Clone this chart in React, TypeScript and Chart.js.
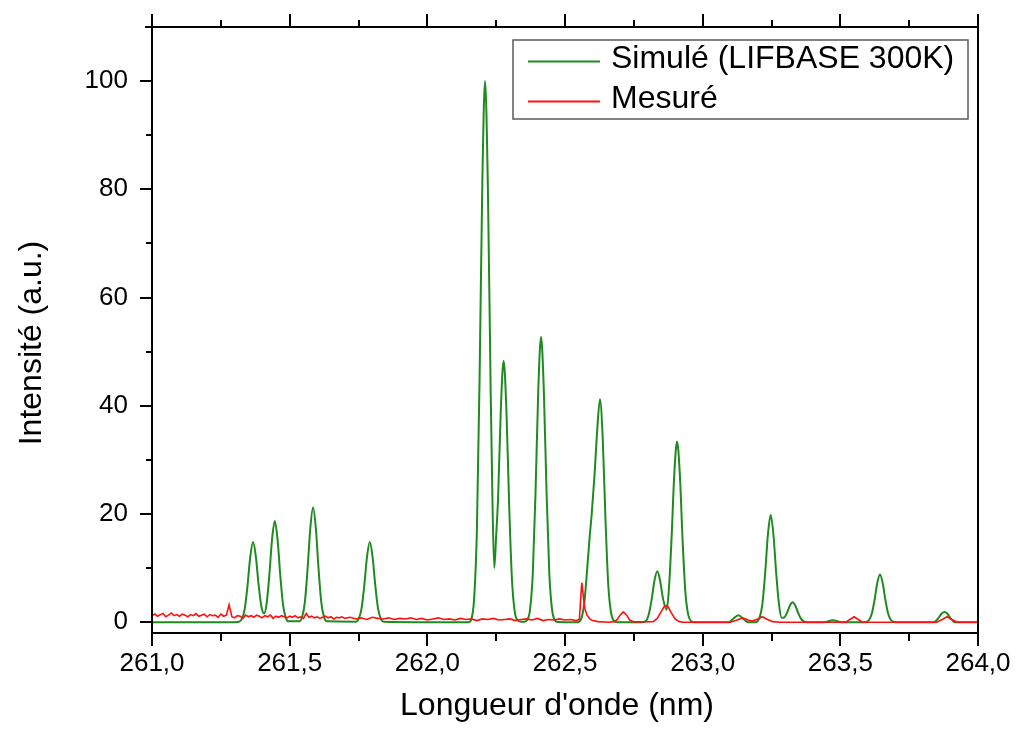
import React, { useEffect, useRef } from 'react';
import { Chart, registerables } from 'chart.js';
Chart.register(...registerables);

// ---------- axes ----------
const X_MIN = 261;
const X_MAX = 264;
const Y_MIN = -2;
const Y_MAX = 110;
const xMajorTicks = [261.0, 261.5, 262.0, 262.5, 263.0, 263.5, 264.0];
const xMinorTicks = [261.25, 261.75, 262.25, 262.75, 263.25, 263.75];
const yMajorTicks = [0, 20, 40, 60, 80, 100];
const yMinorTicks = [10, 30, 50, 70, 90, 110];
const xTitle = "Longueur d'onde (nm)";
const yTitle = 'Intensité (a.u.)';
const seriesLabels = ['Simulé (LIFBASE 300K)', 'Mesuré'];
const seriesColors = ['#1f8a1f', '#ff1010'];

// ---------- simulated spectrum (LIFBASE) ----------
const simWavelength = [
  261.000, 261.300, 261.317,
  261.327, 261.337, 261.347, 261.357, 261.367, 261.377, 261.387, 261.397, 261.407,
  261.416, 261.426, 261.436, 261.446, 261.456, 261.466, 261.476, 261.486, 261.496,
  261.535, 261.545, 261.555, 261.565, 261.575, 261.585, 261.595, 261.605, 261.615, 261.625, 261.635,
  261.741, 261.751, 261.761, 261.771, 261.781, 261.791, 261.801, 261.811, 261.821, 261.831, 261.841,
  262.100, 262.150,
  262.160, 262.170, 262.180, 262.190, 262.200, 262.2096, 262.220, 262.230, 262.236, 262.243,
  262.250, 262.257, 262.267, 262.277, 262.287, 262.297, 262.307, 262.317, 262.327, 262.340,
  262.353, 262.363, 262.373, 262.383, 262.393, 262.403, 262.413, 262.423, 262.433, 262.443, 262.453, 262.463, 262.473,
  262.545, 262.560, 262.570, 262.580, 262.590, 262.597, 262.607, 262.617, 262.627, 262.637, 262.647, 262.657, 262.667, 262.677, 262.690,
  262.780, 262.795, 262.805, 262.815, 262.825, 262.835, 262.845, 262.855, 262.869,
  262.877, 262.887, 262.897, 262.907, 262.917, 262.927, 262.937, 262.947, 262.957, 262.970,
  263.095, 263.110, 263.130, 263.150, 263.165,
  263.190, 263.207, 263.217, 263.227, 263.237, 263.247, 263.257, 263.267, 263.277, 263.287,
  263.297, 263.307, 263.317, 263.327, 263.337, 263.347, 263.357, 263.367, 263.380,
  263.440, 263.473, 263.505,
  263.590, 263.604, 263.614, 263.624, 263.634, 263.644, 263.654, 263.664, 263.674, 263.684, 263.700,
  263.840, 263.858, 263.868, 263.878, 263.888, 263.898, 263.915, 264.000,
];
const simIntensity = [
  0, 0, 0.1,
  0.65, 2.5, 6.8, 12.1, 14.8, 12.2, 7.0, 3.0, 1.6,
  3.3, 8.6, 15.3, 18.7, 15.3, 8.6, 3.2, 0.8, 0.15,
  0.15, 0.9, 3.6, 9.8, 17.4, 21.2, 17.4, 9.8, 3.6, 0.9, 0.15,
  0.1, 0.65, 2.5, 6.8, 12.1, 14.8, 12.1, 6.8, 2.5, 0.65, 0.1,
  0, 0,
  0.6, 4.4, 17, 46, 82, 100, 80, 43, 24, 10,
  16, 23, 39.5, 48.3, 39.5, 22, 8.2, 2.1, 0.4, 0.1,
  0.1, 0.4, 2.3, 9, 24, 43, 52.7, 43, 24, 9, 2.3, 0.4, 0.05,
  0, 0.8, 3.5, 9.5, 16, 20, 27, 35.5, 41.2, 34, 19, 7, 1.8, 0.3, 0,
  0, 0.3, 1.6, 4.3, 7.7, 9.4, 7.8, 4.6, 2.3,
  5.8, 15.5, 27.4, 33.4, 27.4, 15.3, 5.7, 1.5, 0.25, 0,
  0, 0.6, 1.3, 0.5, 0,
  0, 0.9, 3.4, 9.1, 16.2, 19.8, 16.2, 9.1, 3.4, 0.8,
  0.9, 1.8, 3.1, 3.7, 3.0, 1.7, 0.65, 0.15, 0,
  0, 0.35, 0,
  0, 0.4, 1.5, 4.0, 7.2, 8.8, 7.2, 4.0, 1.5, 0.4, 0,
  0, 0.9, 1.6, 1.9, 1.6, 0.9, 0, 0,
];

// ---------- measured spectrum ----------
// noisy part, sampled every 0.01 nm from 261.00 nm
const measNoiseFineStart = 261.0;
const measNoiseFineStep = 0.01;
const measNoiseFine = [
  1.2, 1.5, 1.1, 1.4, 1.6, 1.0, 1.3, 1.7, 1.2, 1.4,
  1.1, 1.5, 1.3, 1.0, 1.4, 1.2, 1.6, 1.1, 1.3, 1.5,
  1.0, 1.4, 1.2, 1.3, 0.9, 1.5, 1.1, 1.3, 3.2, 1.0,
  0.8, 1.2, 1.1, 0.7, 1.3, 1.0, 1.2, 0.9, 1.3, 1.1,
  0.8, 1.2, 1.0, 1.3, 0.7, 1.1, 0.9, 1.2, 1.0, 0.8,
  1.1, 0.9, 1.2, 0.8, 1.0, 0.7, 1.6, 0.9, 1.1, 0.8,
  1.0, 0.7, 0.9, 1.1, 0.8, 1.0, 0.6, 0.9, 0.8, 1.0,
];
// noisy part, sampled every 0.02 nm from 261.70 nm
const measNoiseCoarseStart = 261.7;
const measNoiseCoarseStep = 0.02;
const measNoiseCoarse = [
  0.7, 0.9, 0.6, 0.8, 0.5, 0.9, 0.7, 0.6, 0.8, 0.5,
  0.7, 0.6, 0.8, 0.5, 0.7, 0.4, 0.6, 0.8, 0.5, 0.6,
  0.4, 0.7, 0.5, 0.6, 0.3, 0.6, 0.5, 0.7, 0.4, 0.5,
  0.6, 0.3, 0.5, 0.6, 0.4, 0.7, 0.3, 0.5, 0.4, 0.6,
  0.4, 0.5, 0.3,
];
// smooth part (lines)
const measWavelength = [
  262.552, 262.561, 262.566, 262.572, 262.580, 262.590, 262.600, 262.620, 262.660,
  262.680, 262.690, 262.700, 262.712, 262.725, 262.735, 262.750,
  262.820, 262.835, 262.850, 262.860, 262.867, 262.875, 262.885, 262.900, 262.915, 262.930,
  263.100, 263.125, 263.145, 263.165, 263.180, 263.200, 263.217, 263.235, 263.255, 263.280,
  263.520, 263.535, 263.550, 263.565, 263.580,
  263.850, 263.870, 263.887, 263.905, 263.925, 264.000,
];
const measIntensity = [
  0.5, 7.3, 5.0, 2.5, 1.3, 0.6, 0.3, 0.1, 0,
  0.1, 0.5, 1.3, 1.9, 1.2, 0.4, 0.05,
  0.1, 0.7, 2.0, 2.9, 3.1, 2.8, 1.8, 0.6, 0.1, 0,
  0, 0.4, 0.8, 0.4, 0.2, 0.6, 1.0, 0.5, 0.1, 0,
  0, 0.5, 1.0, 0.5, 0,
  0, 0.5, 1.0, 0.5, 0, 0,
];

// ---------- layout ----------
const W = 1016;
const H = 735;
const PLOT = { left: 152, right: 978, top: 27, bottom: 633 };
const FONT = '"Liberation Sans", Arial, sans-serif';
const TICK_FONT_SIZE = 26;
const TITLE_FONT_SIZE = 32;
const LEGEND = { x: 513, y: 40, w: 455, h: 79 };

function fmtX(v: number) {
  return v.toFixed(1).replace('.', ',');
}

const decorPlugin = {
  id: 'decor',
  afterDraw(chart: any) {
    const { ctx, chartArea: a, scales } = chart;
    const xs = scales.x;
    const ys = scales.y;
    ctx.save();
    ctx.strokeStyle = '#000';
    ctx.lineWidth = 2;
    ctx.lineCap = 'butt';
    // frame
    ctx.beginPath();
    ctx.moveTo(a.left, a.top);
    ctx.lineTo(a.left, a.bottom + 1);
    ctx.moveTo(a.left - 1, a.bottom);
    ctx.lineTo(a.right + 1, a.bottom);
    ctx.moveTo(a.right, a.bottom + 1);
    ctx.lineTo(a.right, a.top - 1);
    ctx.moveTo(a.left - 7, a.top);
    ctx.lineTo(a.right + 1, a.top);
    ctx.stroke();
    // x ticks (bottom and top)
    ctx.beginPath();
    for (const v of xMajorTicks) {
      const px = Math.round(xs.getPixelForValue(v));
      ctx.moveTo(px, a.bottom);
      ctx.lineTo(px, a.bottom + 13);
      ctx.moveTo(px, a.top);
      ctx.lineTo(px, a.top - 13);
    }
    for (const v of xMinorTicks) {
      const px = Math.round(xs.getPixelForValue(v));
      ctx.moveTo(px, a.bottom);
      ctx.lineTo(px, a.bottom + 8);
      ctx.moveTo(px, a.top);
      ctx.lineTo(px, a.top - 7);
    }
    // y ticks (left)
    for (const v of yMajorTicks) {
      const py = Math.round(ys.getPixelForValue(v));
      ctx.moveTo(a.left, py);
      ctx.lineTo(a.left - 12, py);
    }
    for (const v of yMinorTicks) {
      const py = Math.round(ys.getPixelForValue(v));
      ctx.moveTo(a.left, py);
      ctx.lineTo(a.left - 6, py);
    }
    ctx.stroke();

    // axis titles
    ctx.fillStyle = '#000';
    ctx.font = `${TITLE_FONT_SIZE}px ${FONT}`;
    ctx.textAlign = 'center';
    ctx.textBaseline = 'middle';
    ctx.fillText(xTitle, 557, 706);
    ctx.save();
    ctx.translate(32, 343);
    ctx.rotate(-Math.PI / 2);
    ctx.fillText(yTitle, 0, 0);
    ctx.restore();

    // legend
    ctx.strokeStyle = '#5a5a5a';
    ctx.lineWidth = 1.5;
    ctx.strokeRect(LEGEND.x, LEGEND.y, LEGEND.w, LEGEND.h);
    const rowsY = [LEGEND.y + 21.5, LEGEND.y + 61.5];
    ctx.textAlign = 'left';
    ctx.font = `${TITLE_FONT_SIZE}px ${FONT}`;
    seriesLabels.forEach((lab, i) => {
      ctx.strokeStyle = seriesColors[i];
      ctx.lineWidth = 1.8;
      ctx.beginPath();
      ctx.moveTo(LEGEND.x + 15, rowsY[i]);
      ctx.lineTo(LEGEND.x + 87, rowsY[i]);
      ctx.stroke();
      ctx.fillStyle = '#000';
      ctx.fillText(lab, LEGEND.x + 98, rowsY[i] - 2);
    });
    ctx.restore();
  },
};

export default function App() {
  const ref = useRef<HTMLCanvasElement | null>(null);
  useEffect(() => {
    if (!ref.current) return;
    const simData = simWavelength.map((x, i) => ({ x, y: simIntensity[i] }));
    const measData: { x: number; y: number }[] = [];
    measNoiseFine.forEach((y, i) => measData.push({ x: measNoiseFineStart + i * measNoiseFineStep, y }));
    measNoiseCoarse.forEach((y, i) => measData.push({ x: measNoiseCoarseStart + i * measNoiseCoarseStep, y }));
    measWavelength.forEach((x, i) => measData.push({ x, y: measIntensity[i] }));

    const chart = new Chart(ref.current, {
      type: 'line',
      data: {
        datasets: [
          {
            label: seriesLabels[0],
            data: simData,
            borderColor: seriesColors[0],
            borderWidth: 2,
            pointRadius: 0,
            cubicInterpolationMode: 'monotone',
            fill: false,
            order: 1,
          },
          {
            label: seriesLabels[1],
            data: measData,
            borderColor: seriesColors[1],
            borderWidth: 1.6,
            pointRadius: 0,
            tension: 0,
            fill: false,
            order: 0,
          },
        ],
      },
      options: {
        responsive: false,
        animation: false,
        parsing: false,
        layout: { padding: { top: PLOT.top, right: W - PLOT.right, left: 0, bottom: 0 } },
        plugins: { legend: { display: false }, tooltip: { enabled: false } },
        scales: {
          x: {
            type: 'linear',
            min: X_MIN,
            max: X_MAX,
            grid: { display: false, drawTicks: false },
            border: { display: false },
            ticks: {
              stepSize: 0.5,
              padding: 18,
              maxRotation: 0,
              autoSkip: false,
              color: '#000',
              font: { family: FONT, size: TICK_FONT_SIZE, lineHeight: 1 },
              callback: (v: any) => fmtX(Number(v)),
            },
            afterFit: (s: any) => {
              s.height = H - PLOT.bottom;
              s.paddingLeft = 0;
              s.paddingRight = 0;
            },
          },
          y: {
            type: 'linear',
            min: Y_MIN,
            max: Y_MAX,
            grid: { display: false, drawTicks: false },
            border: { display: false },
            ticks: {
              stepSize: 20,
              includeBounds: false,
              padding: 24,
              color: '#000',
              font: { family: FONT, size: TICK_FONT_SIZE, lineHeight: 1 },
              callback: (v: any) => (Number(v) % 20 === 0 ? String(v) : ''),
            },
            afterFit: (s: any) => {
              s.width = PLOT.left;
              s.paddingTop = 0;
              s.paddingBottom = 0;
            },
          },
        },
      },
      plugins: [decorPlugin],
    });
    return () => chart.destroy();
  }, []);

  return (
    <div style={{ position: 'absolute', left: 0, top: 0, width: W, height: H, background: '#fff' }}>
      <canvas ref={ref} width={W} height={H} style={{ display: 'block' }} />
    </div>
  );
}
